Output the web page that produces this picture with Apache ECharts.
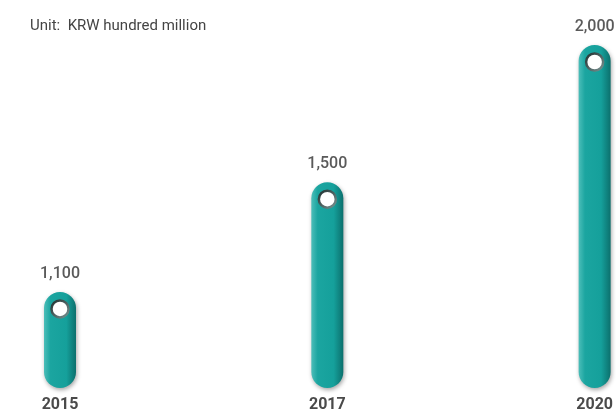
<!DOCTYPE html>
<html>
<head>
<meta charset="utf-8">
<script src="https://cdn.jsdelivr.net/npm/echarts@6/dist/echarts.min.js"></script>
<style>
  html, body { margin: 0; padding: 0; background: #fff; }
  #chart { width: 616px; height: 416px; }
</style>
</head>
<body>
<div id="chart"></div>
<script>
// Budget by year, in KRW hundred million
const years = ['2015', '2017', '2020'];
const amounts = [1100, 1500, 2000];
const unitText = 'Unit:  KRW hundred million';

const labelFont = 'Roboto, "Noto Sans", sans-serif';

const chart = echarts.init(document.getElementById('chart'), null, { renderer: 'canvas' });

// Rounded teal bar with a lit left edge and a darker right edge
const barFill = new echarts.graphic.LinearGradient(0, 0, 1, 0, [
  { offset: 0, color: '#4cbeb9' },
  { offset: 0.2, color: '#1ba5a0' },
  { offset: 0.7, color: '#15a09b' },
  { offset: 1, color: '#0c706d' }
]);

// Dark ring around the white hole near each bar's top
const ringColor = new echarts.graphic.LinearGradient(0, 0, 1, 1, [
  { offset: 0, color: '#1d2a2a' },
  { offset: 1, color: '#7d9897' }
]);

chart.setOption({
  animation: false,
  title: {
    text: unitText,
    left: 25,
    top: 14,
    textStyle: { fontFamily: labelFont, fontSize: 15, fontWeight: 'normal', color: '#444' }
  },
  grid: { left: 60, right: 20, top: 45, bottom: 28 },
  xAxis: {
    type: 'category',
    data: years,
    boundaryGap: false,
    axisLine: { show: false },
    axisTick: { show: false },
    axisLabel: {
      margin: 9,
      fontFamily: labelFont,
      fontSize: 16,
      fontWeight: 'bold',
      color: '#4a4a4a'
    }
  },
  yAxis: {
    type: 'value',
    min: 750,
    max: 2000,
    show: false,
    splitLine: { show: false }
  },
  series: [
    {
      type: 'bar',
      data: amounts,
      barWidth: 32,
      itemStyle: {
        color: barFill,
        borderRadius: 16,
        shadowColor: 'rgba(0,0,0,0.35)',
        shadowBlur: 4,
        shadowOffsetX: 1,
        shadowOffsetY: 2
      },
      label: {
        show: true,
        position: 'top',
        distance: 10,
        formatter: p => p.value.toLocaleString('en-US'),
        fontFamily: labelFont,
        fontSize: 16,
        fontWeight: 500,
        color: '#5a5a5a'
      }
    },
    {
      type: 'scatter',
      data: amounts,
      symbol: 'circle',
      symbolSize: 17,
      symbolOffset: [0, 17],
      z: 5,
      itemStyle: {
        color: '#ffffff',
        borderColor: ringColor,
        borderWidth: 2.5,
        opacity: 1
      },
      silent: true
    }
  ]
});
</script>
</body>
</html>
